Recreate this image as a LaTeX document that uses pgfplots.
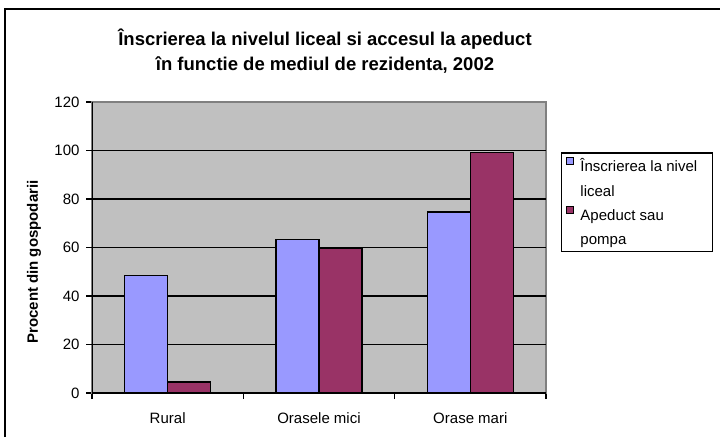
\documentclass[border=0pt]{standalone}
\usepackage{fontspec}
\setmainfont{Liberation Sans}
\usepackage{pgfplots}
\pgfplotsset{compat=1.18}
\definecolor{barblue}{HTML}{9999FF}
\definecolor{barplum}{HTML}{993366}
\definecolor{plotgray}{HTML}{C0C0C0}
\definecolor{bordergray}{HTML}{808080}

\begin{document}
\begin{tikzpicture}[x=1pt,y=1pt]
\useasboundingbox (0,0) rectangle (720,437);
% outer chart frame (cropped on right and bottom)
\draw[line width=2pt] (4.5,0) -- (4.5,427.5) -- (720,427.5);
\begin{axis}[at={(92pt,44pt)}, anchor=south west, scale only axis,
  width=454pt, height=291pt,
  ybar=0pt, bar width=43pt,
  xmin=-0.5, xmax=2.5, ymin=0, ymax=120,
  axis background/.style={fill=plotgray},
  axis line style={bordergray, line width=1.5pt},
  tick align=outside, xtick pos=bottom, ytick pos=left,
  tick style={black, line width=1.5pt},
  major tick length=6pt,
  ytick={0,20,...,120},
  yticklabel style={xshift=-3pt},
  xtick={-0.5,0.5,1.5,2.5}, xticklabels={},
  extra x ticks={0,1,2},
  extra x tick labels={Rural, Orasele mici, Orase mari},
  extra x tick style={major tick length=0pt, xticklabel style={yshift=-16pt}},
  extra y ticks={20,40,60,80,100}, extra y tick labels={},
  extra y tick style={ymajorgrids=true, major grid style={black, line width=1.8pt}},
  ticklabel style={font=\fontsize{15}{18}\selectfont},
  /pgf/number format/assume math mode=true,
  legend style={at={(rel axis cs:1.033,0.828)}, anchor=north west,
    draw=black, line width=1.5pt, inner xsep=2pt, inner ysep=4pt, row sep=6pt,
    font=\fontsize{15}{18}\selectfont},
  legend cell align=left,
  legend image code/.code={\draw[#1, draw=black, line width=1pt] (3pt,1.5pt) rectangle (10pt,8.5pt); \path (14pt,0pt);},
]
\addplot[fill=barblue, draw=black, line width=1.5pt] coordinates {(0,48.4) (1,63.2) (2,74.6)};
\addlegendentry{\makebox[128pt][l]{\strut Înscrierea la nivel}}
\addlegendimage{empty legend}
\addlegendentry{\strut liceal}
\addplot[fill=barplum, draw=black, line width=1.5pt] coordinates {(0,4.5) (1,59.5) (2,99.1)};
\addlegendentry{\strut Apeduct sau}
\addlegendimage{empty legend}
\addlegendentry{\strut pompa}
\draw[black, line width=2pt] (rel axis cs:0,1) -- (rel axis cs:0,0) -- (rel axis cs:1,0);
\end{axis}
\node[font=\bfseries\fontsize{18.5}{25}\selectfont, align=center] at (325,386)
  {Înscrierea la nivelul liceal si accesul la apeduct\\în functie de mediul de rezidenta, 2002};
\node[rotate=90, font=\bfseries\fontsize{15}{18}\selectfont] at (34,175) {Procent din gospodarii};
\end{tikzpicture}
\end{document}
